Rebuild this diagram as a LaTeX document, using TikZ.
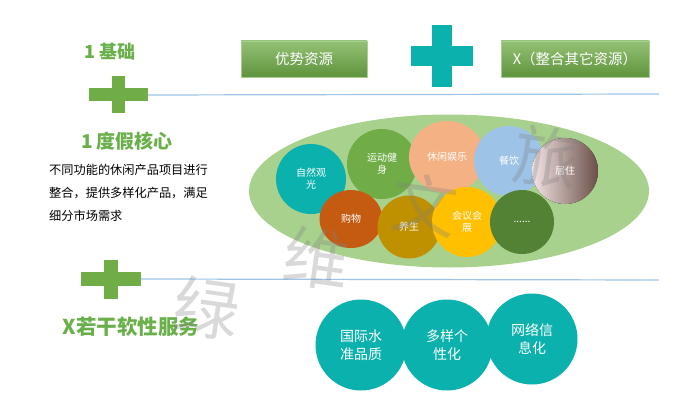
\documentclass[tikz,border=0pt]{standalone}
\usepackage{fontspec}
\setmainfont{Noto Sans CJK SC}
\usetikzlibrary{shapes.geometric}
\definecolor{gr}{HTML}{70AD47}
\definecolor{grt}{HTML}{6AB04A}
\definecolor{teal}{HTML}{0BB1AC}
\definecolor{lgr}{HTML}{A9D18E}
\definecolor{lblue}{HTML}{9DC3E6}
\definecolor{peach}{HTML}{F4B183}
\definecolor{rust}{HTML}{C55A11}
\definecolor{dgold}{HTML}{BF9000}
\definecolor{gold}{HTML}{FFC000}
\definecolor{dgr}{HTML}{548235}
\definecolor{brn}{HTML}{6B5048}
\definecolor{pnk}{HTML}{F3E4E4}
\begin{document}
\begin{tikzpicture}[x=1pt,y=-1pt,
  title/.style={text=grt,font=\bfseries\fontsize{#1}{#1}\selectfont,inner sep=0pt},
  gbox/.style={top color=gr!75!white,bottom color=gr!85!black,draw=gr!60!white,line width=0.5pt,
    minimum height=36pt,text=white,font=\fontsize{14.5}{14.5}\selectfont,inner sep=0pt},
  bar/.style={fill=#1,inner sep=0pt,draw=none},
  hline/.style={draw=lblue,line width=1.2pt},
  bub/.style={circle,fill=#1,text=white,inner sep=0pt,align=center,font=\fontsize{10}{12}\selectfont},
  tbub/.style={circle,fill=teal,text=white,inner sep=0pt,align=center,minimum size=91pt,font=\fontsize{14}{17.5}\selectfont},
  wm/.style={text=gray,opacity=0.3,font=\fontsize{66}{66}\selectfont,inner sep=0pt,rotate=-8}
]
\useasboundingbox (0,0) rectangle (700,414);

% top row
\node[title=18] (t1) at (110,52) {1 基础};
\node[gbox,minimum width=126pt] (b1) at (304,59) {优势资源};
\node[gbox,minimum width=148pt] (b2) at (575,59) {X（整合其它资源）};
\node[bar=teal,minimum width=62pt,minimum height=20pt] (tph) at (442,56) {};
\node[bar=teal,minimum width=20pt,minimum height=62pt] (tpv) at (442,56) {};

% plus 1 and line
\node[bar=gr,minimum width=59pt,minimum height=13pt] (p1h) at (118.5,95) {};
\node[bar=gr,minimum width=13pt,minimum height=37pt] (p1v) at (118.5,95) {};
\coordinate (l1e) at (659,94);
\draw[hline] (p1h.east) -- (l1e);

% core section
\node[title=19] (t2) at (127,141) {1 度假核心};
\node[anchor=north west,inner sep=0pt,align=left,font=\fontsize{12.2}{23}\selectfont] (para) at (49,164)
  {不同功能的休闲产品项目进行\\整合，提供多样化产品，满足\\细分市场需求};

\node[ellipse,fill=lgr,minimum width=400pt,minimum height=153pt,inner sep=0pt] (ell) at (449,191) {};
\node[bub=teal,minimum size=70pt] (c1) at (311,179) {自然观\\光};
\node[bub=gr,minimum size=70pt] (c2) at (382,164) {运动健\\身};
\node[bub=peach,minimum width=76pt,minimum height=72pt,ellipse] (c3) at (447,157) {休闲娱乐};
\node[bub=lblue,minimum size=70pt] (c4) at (509,161) {餐饮};
\fill[left color=pnk,right color=brn] (565,171) circle (33);
\node[bub=none,minimum size=66pt] (c5) at (565,171) {居住};
\node[bub=rust,minimum width=63pt,minimum height=58pt,ellipse] (c6) at (351,219) {购物};
\node[bub=dgold,minimum size=63pt] (c7) at (409,227) {养生};
\node[bub=gold,minimum size=70pt] (c8) at (467,222) {会议会\\展};
\node[bub=dgr,minimum size=64pt] (c9) at (522,222) {......};

% plus 2 and line
\node[bar=gr,minimum width=60pt,minimum height=14pt] (p2h) at (111,279) {};
\node[bar=gr,minimum width=14pt,minimum height=39pt] (p2v) at (111,279) {};
\coordinate (l2e) at (659,280);
\draw[hline] (p2h.east) -- (l2e);

\node[title=20.5] (t3) at (131,327) {X若干软性服务};

\node[tbub] (s1) at (361,345) {国际水\\准品质};
\node[tbub] (s2) at (447,345) {多样个\\性化};
\node[tbub] (s3) at (532,339) {网络信\\息化};

% watermark
\node[wm] (w1) at (207,308) {绿};
\node[wm] (w2) at (317,258) {维};
\node[wm] (w3) at (425,205) {文};
\node[wm] (w4) at (547,157) {旅};
\end{tikzpicture}
\end{document}
